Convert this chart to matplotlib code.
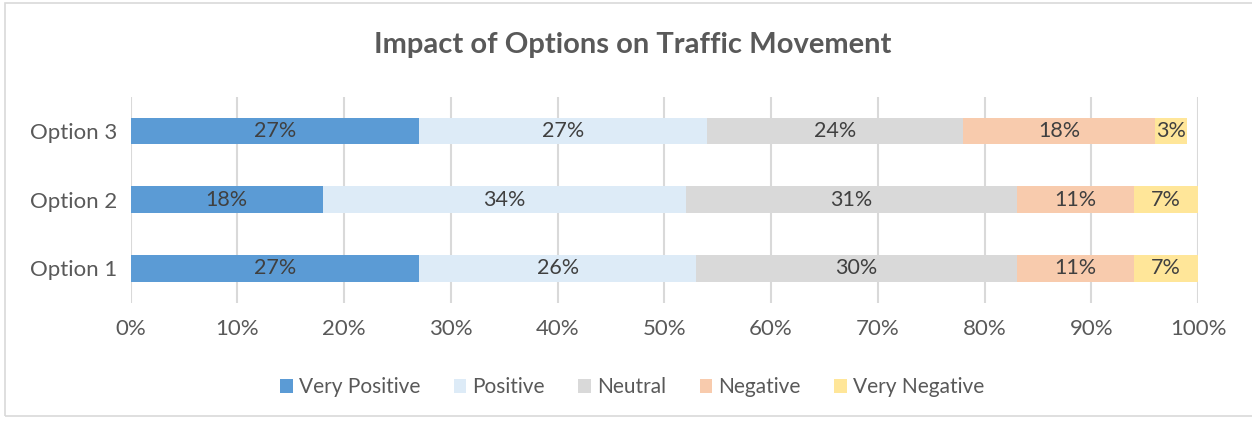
import matplotlib.pyplot as plt
from matplotlib.patches import Rectangle

plt.rcParams['font.family'] = ['Lato', 'DejaVu Sans']

options = ["Option 1", "Option 2", "Option 3"]
categories = ["Very Positive", "Positive", "Neutral", "Negative", "Very Negative"]
colors = ["#5B9BD5", "#DDEBF7", "#D9D9D9", "#F8CBAD", "#FFE699"]

very_positive = [27, 18, 27]
positive = [26, 34, 27]
neutral = [30, 31, 24]
negative = [11, 11, 18]
very_negative = [7, 7, 3]

series = [very_positive, positive, neutral, negative, very_negative]
ticks = [0, 10, 20, 30, 40, 50, 60, 70, 80, 90, 100]

fig = plt.figure(figsize=(12.52, 4.21), dpi=100)
ax = fig.add_axes([0.1044, 0.2808, 0.8525, 0.4895])

left = [0, 0, 0]
for vals, name, col in zip(series, categories, colors):
    ax.barh(range(len(options)), vals, left=left, height=0.39, color=col, label=name, zorder=2)
    for i, v in enumerate(vals):
        end = min(left[i] + v, 100)
        ax.text((left[i] + end) / 2, i, f"{v}%", ha="center", va="center",
                fontsize=15.5, color="#404040", zorder=3)
    left = [l + v for l, v in zip(left, vals)]

ax.set_xlim(0, 100)
ax.set_ylim(-0.5, 2.5)
ax.set_xticks(ticks)
ax.set_xticklabels([f"{t}%" for t in ticks])
ax.set_yticks(range(len(options)))
ax.set_yticklabels(options)
ax.tick_params(length=0, labelsize=16, labelcolor="#595959")
ax.tick_params(axis="x", pad=12)
ax.tick_params(axis="y", pad=10)
ax.grid(axis="x", color="#D9D9D9", linewidth=1.5, zorder=0)
for s in ax.spines.values():
    s.set_visible(False)

fig.text(0.505, 0.893, "Impact of Options on Traffic Movement", ha="center", va="center",
         fontsize=21, fontweight="bold", color="#595959")

leg = fig.legend(loc="center", bbox_to_anchor=(0.505, 0.08), ncol=5, frameon=False,
                 fontsize=15, handlelength=0.6, handleheight=0.6, handletextpad=0.3,
                 columnspacing=1.6)
for t in leg.get_texts():
    t.set_color("#595959")

fig.patches.append(Rectangle((0.004, 0.012), 1.0, 0.98, transform=fig.transFigure,
                             fill=False, edgecolor="#D9D9D9", linewidth=1.2))

fig.savefig("out.png", dpi=100)
